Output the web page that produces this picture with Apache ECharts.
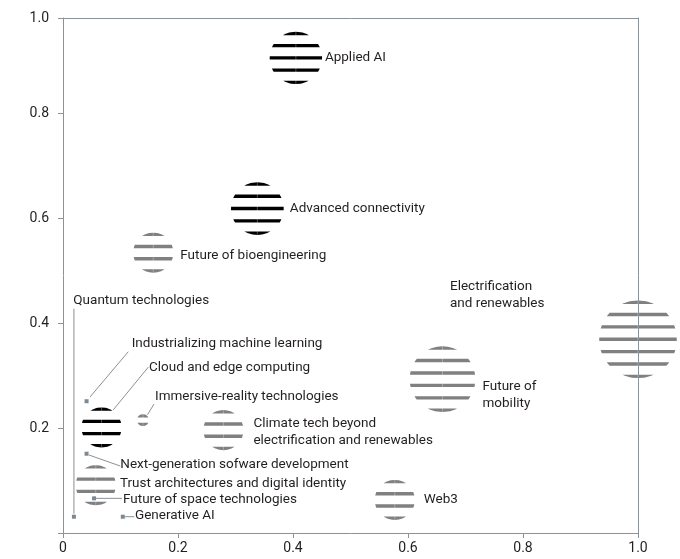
<!DOCTYPE html>
<html><head><meta charset="utf-8">
<script src="https://cdn.jsdelivr.net/npm/echarts@6/dist/echarts.min.js"></script>
<style>html,body{margin:0;padding:0;background:#fff}#c{width:680px;height:559px}</style>
</head><body><div id="c"></div>
<script>
// ---- data ----
const names = ['Applied AI','Advanced connectivity','Future of bioengineering','Electrification\nand renewables','Future of\nmobility','Climate tech beyond\nelectrification and renewables','Web3','Cloud and edge computing','Immersive-reality technologies','Trust architectures and digital identity','Industrializing machine learning','Next-generation sofware development','Future of space technologies','Generative AI','Quantum technologies'];
const xValues = [0.405,0.338,0.157,1.0,0.660,0.279,0.577,0.067,0.139,0.057,0.041,0.041,0.054,0.104,0.019];
const yValues = [0.905,0.618,0.534,0.369,0.293,0.196,0.063,0.201,0.215,0.091,0.251,0.151,0.066,0.031,0.031];
const sizes   = [16.2,16.4,9.5,35.6,25.5,9.5,9.5,9.5,0.85,9.5,0,0,0,0,0];
const groups  = ['lead','lead','other','other','other','other','other','lead','other','other','other','other','other','other','other'];
const xTickLabels = ['0','0.2','0.4','0.6','0.8','1.0'];
const yTickLabels = ['','0.2','0.4','0.6','0.8','1.0'];

// ---- layout (label placement relative to each mark, px) ----
const labelOffsets = [[29,0],[32.5,0],[27,2.5],[-188,-44.6],[40,16],[30,2],[29,0],[47.5,-59.4],[12.1,-23.4],[24.2,-1.9],[45.1,-57.9],[33.7,10.6],[28.9,1.6],[12.2,-0.7],[-0.6,-215.7]];
const leaders = {
  7: [[11.8,-17.7],[46.8,-60.4]],
  8: [[4.6,-5.5],[11.1,-16.1]],
  10: [[3.4,-4.2],[41.7,-49.5]],
  11: [[2.4,1.3],[33.7,12.3]],
  12: [[2,0],[28,0]],
  13: [[2,0],[11.5,0]],
  14: [[0,-3],[0,-208]]
};
const AX = '#8a939a';
const TXT = '#231f20';
const FONT = 'Roboto';
const R_SCALE = 6.5;

const data = xValues.map((x,i)=>[x, yValues[i], sizes[i], i]);

function renderItem(params, api){
  const i = params.dataIndex;
  const c = api.coord([api.value(0), api.value(1)]);
  const r = R_SCALE*Math.sqrt(api.value(2));
  const color = groups[i]==='lead' ? '#000000' : '#808080';
  const children = [];
  if (r > 0){
    const n = Math.max(1, Math.round(2*r/12.7));
    const t = 3.4;
    for (let k=0;k<=n;k++){
      const cy = -r + t/2 + k*(2*r - t)/n;
      const y1 = Math.max(-r, cy - t/2), y2 = Math.min(r, cy + t/2);
      const pts = [];
      const m = 8;
      for (let j=0;j<=m;j++){ const y=y1+(y2-y1)*j/m; pts.push([c[0]+Math.sqrt(Math.max(0,r*r-y*y)), c[1]+y]); }
      for (let j=m;j>=0;j--){ const y=y1+(y2-y1)*j/m; pts.push([c[0]-Math.sqrt(Math.max(0,r*r-y*y)), c[1]+y]); }
      children.push({type:'polygon', shape:{points:pts}, style:{fill:color}});
    }
    children.push({type:'line', shape:{x1:c[0],y1:c[1]-r,x2:c[0],y2:c[1]+r}, style:{stroke:'#ffffff', lineWidth:0.6, opacity:0.5}});
  } else {
    children.push({type:'rect', shape:{x:c[0]-2,y:c[1]-2,width:4,height:4}, style:{fill:'#7d8891'}});
  }
  const L = leaders[i];
  if (L){
    children.push({type:'line', shape:{x1:c[0]+L[0][0], y1:c[1]+L[0][1], x2:c[0]+L[1][0], y2:c[1]+L[1][1]}, style:{stroke:'#8a9096', lineWidth:1}});
  }
  const o = labelOffsets[i];
  children.push({type:'text', x:c[0]+o[0], y:c[1]+o[1], style:{text:names[i], fill:TXT, fontSize:13.5, fontFamily:FONT, align:'left', verticalAlign:'middle', lineHeight:17}});
  return {type:'group', children};
}

const chart = echarts.init(document.getElementById('c'), null, {renderer:'canvas'});
chart.setOption({
  animation:false,
  grid:{left:63, top:18, width:575, height:515, show:false},
  xAxis:[
    {type:'value', min:0, max:1, interval:0.2, position:'bottom',
     axisLine:{show:true, onZero:false, lineStyle:{color:AX, width:1}},
     axisTick:{show:true, length:5, lineStyle:{color:AX}},
     axisLabel:{formatter:(v,idx)=>xTickLabels[idx], color:TXT, fontSize:14, fontFamily:FONT, margin:8},
     splitLine:{show:false}},
    {type:'value', min:0, max:1, position:'top', z:5,
     axisLine:{show:true, onZero:false, lineStyle:{color:AX, width:1}},
     axisTick:{show:false}, axisLabel:{show:false}, splitLine:{show:false}}
  ],
  yAxis:[
    {type:'value', min:0, max:0.981, interval:0.2, position:'left',
     axisLine:{show:true, onZero:false, lineStyle:{color:AX, width:1}},
     axisTick:{show:true, length:5, lineStyle:{color:AX}},
     axisLabel:{formatter:(v,idx)=>yTickLabels[idx], color:TXT, fontSize:14, fontFamily:FONT, margin:14, showMaxLabel:true},
     splitLine:{show:false}},
    {type:'value', min:0, max:0.981, position:'right', z:5,
     axisLine:{show:true, onZero:false, lineStyle:{color:AX, width:1}},
     axisTick:{show:false}, axisLabel:{show:false}, splitLine:{show:false}}
  ],
  series:[{
    type:'custom', renderItem, data, clip:false, z:2,
    encode:{x:0, y:1}
  }]
});
</script>
</body></html>
